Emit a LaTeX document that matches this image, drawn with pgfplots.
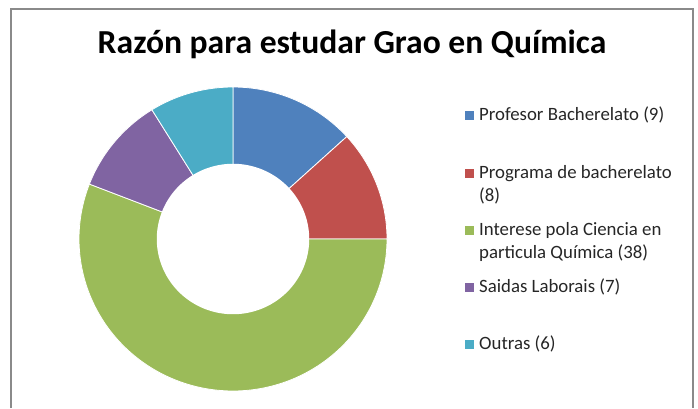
\documentclass[border=0pt]{standalone}
\usepackage{fontspec}
\setmainfont{Carlito}
\usepackage{pgfplots}
\usepackage{pgfplotstable}
\pgfplotsset{compat=1.18}
\definecolor{sliceA}{HTML}{4F81BD}
\definecolor{sliceB}{HTML}{C0504D}
\definecolor{sliceC}{HTML}{9BBB59}
\definecolor{sliceD}{HTML}{8064A2}
\definecolor{sliceE}{HTML}{4BACC6}
\definecolor{framegray}{HTML}{8A8A8A}
\pgfplotstableread{
value
9
8
38
7
6
}\datatable
\begin{document}
\begin{tikzpicture}
\useasboundingbox (0pt,0pt) rectangle (698pt,408pt);
% frame
\draw[framegray, line width=2pt] (11pt,0pt) -- (11pt,399pt) -- (693pt,399pt) -- (693pt,0pt);
% compute angles
\pgfplotstablegetelem{0}{value}\of\datatable \let\vA\pgfplotsretval
\pgfplotstablegetelem{1}{value}\of\datatable \let\vB\pgfplotsretval
\pgfplotstablegetelem{2}{value}\of\datatable \let\vC\pgfplotsretval
\pgfplotstablegetelem{3}{value}\of\datatable \let\vD\pgfplotsretval
\pgfplotstablegetelem{4}{value}\of\datatable \let\vE\pgfplotsretval
\pgfmathsetmacro\T{\vA+\vB+\vC+\vD+\vE}
\pgfmathsetmacro\tA{90}
\pgfmathsetmacro\tB{90-((\vA)/\T)*360}
\pgfmathsetmacro\tC{90-((\vA+\vB)/\T)*360}
\pgfmathsetmacro\tD{90-((\vA+\vB+\vC)/\T)*360}
\pgfmathsetmacro\tE{90-((\vA+\vB+\vC+\vD)/\T)*360}
\pgfmathsetmacro\tF{-270}
\begin{axis}[at={(233pt,169pt)}, anchor=center, width=308pt, height=304pt,
  scale only axis, xmin=-1, xmax=1, ymin=-1, ymax=1, hide axis, clip=false]
\addplot[fill=sliceA, draw=white, line width=0.8pt, domain=\tB:\tA, samples=60] ({cos(x)},{sin(x)}) -- (axis cs:0,0) -- cycle;
\addplot[fill=sliceB, draw=white, line width=0.8pt, domain=\tC:\tB, samples=60] ({cos(x)},{sin(x)}) -- (axis cs:0,0) -- cycle;
\addplot[fill=sliceC, draw=white, line width=0.8pt, domain=\tD:\tC, samples=150] ({cos(x)},{sin(x)}) -- (axis cs:0,0) -- cycle;
\addplot[fill=sliceD, draw=white, line width=0.8pt, domain=\tE:\tD, samples=60] ({cos(x)},{sin(x)}) -- (axis cs:0,0) -- cycle;
\addplot[fill=sliceE, draw=white, line width=0.8pt, domain=\tF:\tE, samples=60] ({cos(x)},{sin(x)}) -- (axis cs:0,0) -- cycle;
\addplot[fill=white, draw=none, domain=0:360, samples=180] ({0.495*cos(x)},{0.495*sin(x)}) -- cycle;
\end{axis}
% title
\node[anchor=base, inner sep=0pt, font=\fontsize{33.6}{40}\selectfont\bfseries] at (352pt,354pt) {Razón para estudar Grao en Química};
% legend
\begin{scope}[every node/.style={anchor=base west, inner sep=0pt, font=\fontsize{18.8}{23}\selectfont, text=black!85}]
\fill[sliceA] (465pt,288.5pt) rectangle (474pt,297.5pt);
\node at (479pt,287.5pt) {Profesor Bacherelato (9)};
\fill[sliceB] (465pt,230.5pt) rectangle (474pt,239.5pt);
\node at (479pt,229.5pt) {Programa de bacherelato};
\node at (479pt,206.5pt) {(8)};
\fill[sliceC] (465pt,173.5pt) rectangle (474pt,182.5pt);
\node at (479pt,172.5pt) {Interese pola Ciencia en};
\node at (479pt,149.5pt) {particula Química (38)};
\fill[sliceD] (465pt,116.5pt) rectangle (474pt,125.5pt);
\node at (479pt,115.5pt) {Saidas Laborais (7)};
\fill[sliceE] (465pt,59.5pt) rectangle (474pt,68.5pt);
\node at (479pt,58.5pt) {Outras (6)};
\end{scope}
\end{tikzpicture}
\end{document}
